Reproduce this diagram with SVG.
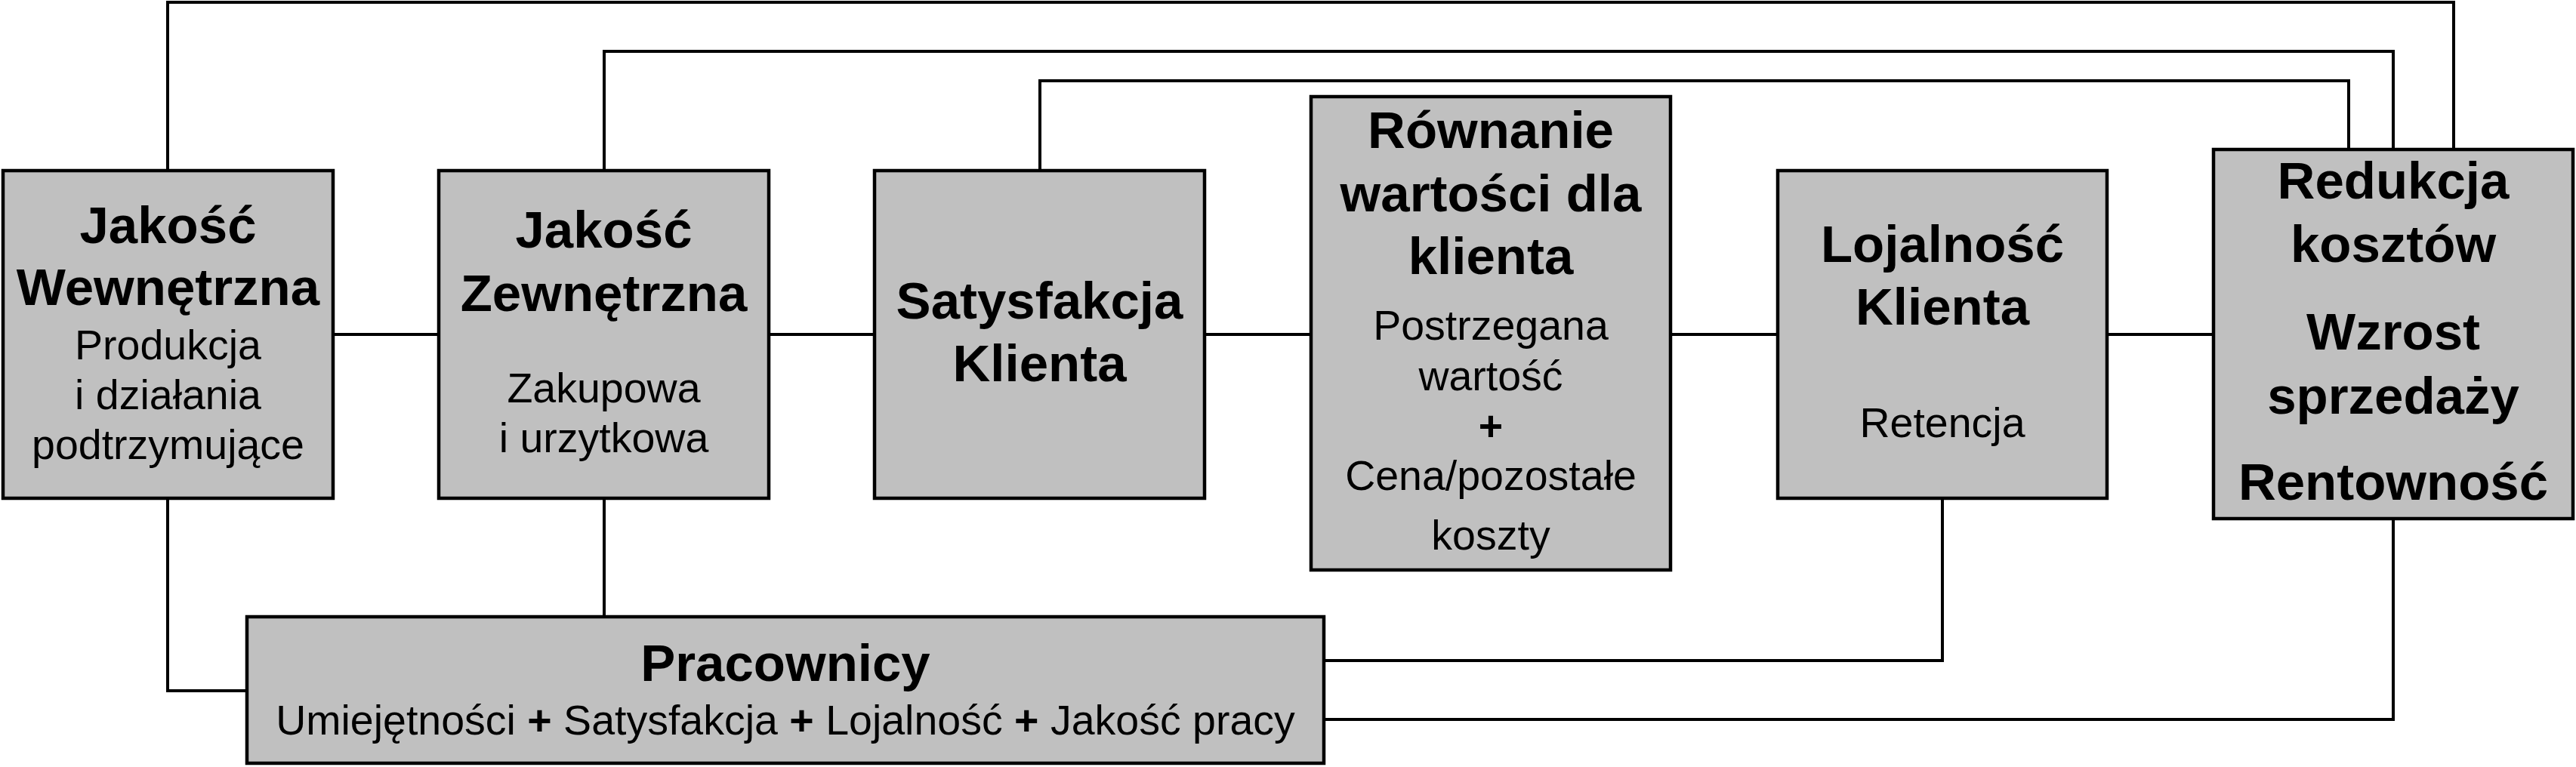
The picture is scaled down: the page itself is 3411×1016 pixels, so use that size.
<svg xmlns="http://www.w3.org/2000/svg" width="3411" height="1016" viewBox="0 0 3411 1016">
<style>
.box{fill:#c0c0c0;stroke:#000;stroke-width:4.5;stroke-linejoin:miter}
.ln{fill:none;stroke:#000;stroke-width:4;stroke-linecap:square}
text{font-family:"Liberation Sans",Arial,sans-serif;text-anchor:middle;fill:#000}
.b{font-size:69px;font-weight:bold}
.r{font-size:55.5px}
.pb{font-weight:bold}
</style>
<rect width="3411" height="1016" fill="#fff"/>
<g id="connectors">
<polyline class="ln" points="222,226 222,3 3249,3 3249,198"/>
<polyline class="ln" points="800,226 800,68 3169,68 3169,198"/>
<polyline class="ln" points="1377,226 1377,107 3110,107 3110,198"/>
<line class="ln" x1="441" y1="443" x2="581" y2="443"/>
<line class="ln" x1="1018" y1="443" x2="1158" y2="443"/>
<line class="ln" x1="1595" y1="443" x2="1736" y2="443"/>
<line class="ln" x1="2212" y1="443" x2="2354" y2="443"/>
<line class="ln" x1="2790" y1="443" x2="2931" y2="443"/>
<polyline class="ln" points="222,660 222,915 327,915"/>
<line class="ln" x1="800" y1="660" x2="800" y2="817"/>
<polyline class="ln" points="2572,660 2572,875 1753,875"/>
<polyline class="ln" points="3169,687 3169,953 1753,953"/>
</g>
<g id="n1">
<rect class="box" x="4" y="226" width="437" height="434"/>
<text class="b" x="222.5" y="322">Jakość</text>
<text class="b" x="222.5" y="404">Wewnętrzna</text>
<text class="r" x="222.5" y="476">Produkcja</text>
<text class="r" x="222.5" y="542">i działania</text>
<text class="r" x="222.5" y="608">podtrzymujące</text>
</g>
<g id="n2">
<rect class="box" x="581" y="226" width="437" height="434"/>
<text class="b" x="799.5" y="328">Jakość</text>
<text class="b" x="799.5" y="412">Zewnętrzna</text>
<text class="r" x="799.5" y="533">Zakupowa</text>
<text class="r" x="799.5" y="599">i urzytkowa</text>
</g>
<g id="n3">
<rect class="box" x="1158" y="226" width="437" height="434"/>
<text class="b" x="1376.5" y="422">Satysfakcja</text>
<text class="b" x="1376.5" y="505">Klienta</text>
</g>
<g id="n4">
<rect class="box" x="1736" y="128" width="476" height="627"/>
<text class="b" x="1974" y="196">Równanie</text>
<text class="b" x="1974" y="280">wartości dla</text>
<text class="b" x="1974" y="363">klienta</text>
<text class="r" x="1974" y="450">Postrzegana</text>
<text class="r" x="1974" y="517">wartość</text>
<text class="r pb" x="1974" y="583">+</text>
<text class="r" x="1974" y="649">Cena/pozostałe</text>
<text class="r" x="1974" y="728">koszty</text>
</g>
<g id="n5">
<rect class="box" x="2354" y="226" width="436" height="434"/>
<text class="b" x="2572" y="347">Lojalność</text>
<text class="b" x="2572" y="430">Klienta</text>
<text class="r" x="2572" y="579">Retencja</text>
</g>
<g id="n6">
<rect class="box" x="2931" y="198" width="476" height="489"/>
<text class="b" x="3169" y="263">Redukcja</text>
<text class="b" x="3169" y="347">kosztów</text>
<text class="b" x="3169" y="463">Wzrost</text>
<text class="b" x="3169" y="548">sprzedaży</text>
<text class="b" x="3169" y="662">Rentowność</text>
</g>
<g id="n7">
<rect class="box" x="327" y="817" width="1426" height="194"/>
<text class="b" x="1040" y="902">Pracownicy</text>
<text class="r" x="1040" y="973">Umiejętności <tspan class="pb">+</tspan> Satysfakcja <tspan class="pb">+</tspan> Lojalność <tspan class="pb">+</tspan> Jakość pracy</text>
</g>
</svg>
